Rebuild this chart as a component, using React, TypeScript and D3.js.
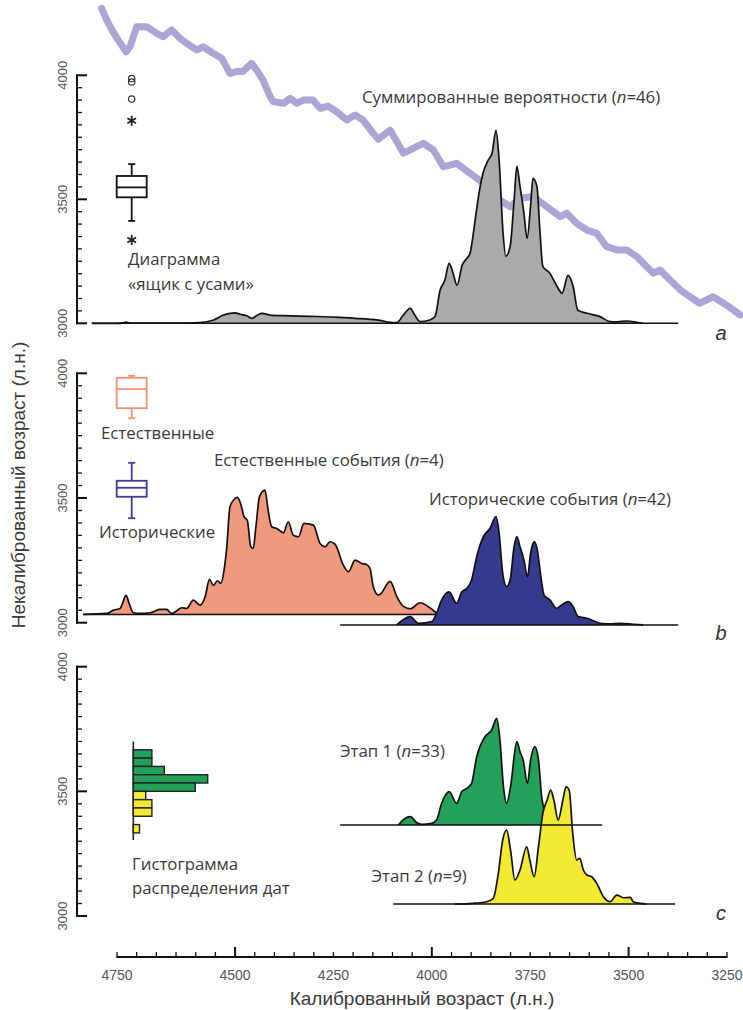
import React from 'react'
import * as d3 from 'd3'

const W = 743
const H = 1010

// calibration curve: [calibrated age, radiocarbon age]
const calCurve: [number, number][] = [
  [4839, 4270], [4826, 4223], [4813, 4183], [4797, 4142], [4777, 4095], [4767, 4115], [4750, 4196],
  [4725, 4196], [4699, 4169], [4683, 4156], [4661, 4183], [4640, 4149], [4623, 4129], [4597, 4102],
  [4581, 4115], [4556, 4089], [4534, 4069], [4513, 4008], [4496, 4015], [4480, 4015], [4458, 4048],
  [4445, 4021], [4429, 3981], [4411, 3914], [4403, 3894], [4377, 3887], [4360, 3907], [4343, 3887],
  [4327, 3900], [4302, 3900], [4284, 3867], [4264, 3876], [4242, 3853], [4216, 3820], [4195, 3840],
  [4175, 3820], [4149, 3766], [4136, 3742], [4106, 3779], [4072, 3686], [4055, 3699], [4022, 3726],
  [3996, 3699], [3971, 3631], [3937, 3645], [3903, 3605], [3869, 3565], [3827, 3498], [3801, 3470],
  [3776, 3504], [3742, 3511], [3708, 3470], [3674, 3430], [3657, 3444], [3632, 3403], [3606, 3376],
  [3581, 3363], [3556, 3309], [3530, 3296], [3505, 3296], [3479, 3269], [3454, 3228], [3437, 3202],
  [3420, 3215], [3395, 3175], [3369, 3135], [3344, 3107], [3319, 3081], [3285, 3107], [3259, 3081],
  [3234, 3054], [3217, 3034],
]

// summed probabilities: [calibrated age, relative probability]
const sumAll: [number, number][] = [
  [4864, 0], [4800, 0], [4785, 0.5], [4777, 1.2], [4768, 0.3], [4650, 0.3], [4589, 0.8], [4556, 3],
  [4531, 8], [4513, 10], [4500, 10.5], [4487, 9], [4470, 7.5], [4457, 5], [4444, 8], [4432, 10],
  [4406, 8], [4360, 7.5], [4310, 7], [4233, 6], [4195, 5], [4157, 4], [4132, 3], [4106, 1], [4089, 0.7],
  [4073, 8], [4055, 15], [4043, 8], [4030, 1.7], [4005, 3.3], [3992, 6.7], [3979, 33], [3967, 43],
  [3956, 60], [3946, 50], [3936, 38], [3923, 58], [3911, 65], [3903, 70], [3890, 103], [3883, 123],
  [3870, 150], [3857, 163], [3847, 170], [3837, 193], [3829, 163], [3819, 90], [3812, 67], [3801, 77],
  [3791, 123], [3784, 157], [3776, 137], [3766, 110], [3758, 85], [3748, 123], [3743, 145], [3733, 137],
  [3725, 90], [3718, 57], [3700, 50], [3682, 37], [3669, 30], [3654, 48], [3641, 37], [3629, 13],
  [3606, 10], [3573, 6.7], [3547, 1.7], [3530, 1.5], [3504, 2.3], [3479, 1], [3463, 0],
]

const natural: [number, number][] = [
  [4886, 0], [4826, 1], [4809, 4.3], [4792, 6], [4786, 11], [4777, 19], [4769, 11], [4759, 1.7],
  [4742, 1], [4716, 1.7], [4691, 5], [4674, 5], [4661, 1], [4648, 3.7], [4636, 6.7], [4623, 6],
  [4606, 14.3], [4589, 9.3], [4576, 17.7], [4565, 35], [4555, 29], [4545, 33.7], [4536, 31], [4528, 44],
  [4521, 67.7], [4513, 107.7], [4504, 114.3], [4494, 117], [4486, 111], [4477, 97.7], [4469, 94.3],
  [4460, 67.7], [4454, 66], [4447, 87.7], [4438, 117.7], [4424, 124.3], [4416, 104.3], [4407, 87.7],
  [4394, 86], [4377, 81.7], [4365, 92.7], [4352, 79.3], [4339, 77.7], [4325, 91], [4301, 89.3],
  [4284, 71], [4271, 67.7], [4259, 72.7], [4246, 70.3], [4225, 49.3], [4212, 42.7], [4195, 54.3],
  [4178, 51], [4166, 50], [4157, 46], [4149, 28], [4136, 19.5], [4132, 20], [4106, 33], [4089, 18],
  [4073, 8.3], [4055, 5.7], [4030, 11.7], [4005, 6.7], [3984, 0],
]

const historical: [number, number][] = [
  [4089, 0], [4055, 8.3], [4034, 1.7], [4000, 3.3], [3988, 11.7], [3975, 25], [3956, 33], [3937, 21.7],
  [3924, 33], [3911, 36.7], [3899, 45], [3886, 68.3], [3869, 88.3], [3852, 96.7], [3837, 108.3],
  [3829, 91.7], [3820, 51.7], [3810, 38.3], [3801, 45], [3791, 78.3], [3784, 88.3], [3776, 78.3],
  [3766, 65], [3757, 48.3], [3749, 71.7], [3740, 83.3], [3732, 75], [3723, 48.3], [3715, 30], [3700, 25],
  [3683, 16.7], [3670, 20], [3653, 23.3], [3641, 18.3], [3628, 8.3], [3606, 6.7], [3573, 1.7],
  [3547, 1], [3522, 1.7], [3488, 0.7], [3463, 0],
]

const stage1: [number, number][] = [
  [4085, 0], [4073, 5], [4055, 8.3], [4038, 2.3], [4026, 0.7], [4000, 1.7], [3988, 5], [3975, 21.7],
  [3956, 33.3], [3937, 21.7], [3924, 33.3], [3911, 36.7], [3899, 41.7], [3886, 68.3], [3865, 88.3],
  [3848, 95], [3835, 106.7], [3827, 85], [3818, 38.3], [3810, 21.7], [3800, 38.3], [3784, 83.3],
  [3776, 73.3], [3768, 65], [3757, 41.7], [3749, 65], [3738, 78.3], [3729, 65], [3721, 28.3],
  [3712, 11.7], [3704, 3.3], [3695, 0.7], [3687, 0],
]

const stage2: [number, number][] = [
  [3941, 0], [3895, 0.7], [3861, 2.3], [3844, 5.7], [3831, 30.7], [3820, 64], [3810, 74], [3800, 54],
  [3789, 24], [3776, 34], [3759, 57.3], [3751, 44], [3740, 27.3], [3729, 57.3], [3718, 90.7],
  [3707, 104], [3698, 114], [3690, 104], [3679, 84], [3667, 104], [3659, 117.3], [3651, 114],
  [3642, 70.7], [3632, 44], [3624, 45.7], [3615, 34], [3606, 29], [3594, 27.3], [3581, 20.7],
  [3564, 7.3], [3547, 2.3], [3530, 9], [3513, 6.3], [3496, 6.7], [3488, 2.3], [3471, 0.7], [3454, 0],
]

// box plots of radiocarbon ages: [whiskerLow, q1, median, q3, whiskerHigh]
const boxAll = [3413, 3508, 3548, 3594, 3642]
const boxAllStars = [3817, 3336]
const boxAllCircles = [3904, 3987, 3973]
const boxNatural = [3820, 3860, 3937, 3982, 3990]
const boxHistorical = [3419, 3505, 3541, 3569, 3641]

// histogram of dates, bins of 33.3 years going down from 3666.7
const histTop = 3666.7
const histBin = 100 / 3
const histStage1 = [3, 3, 5, 12, 10]
const histStage2 = [2, 3, 3, 0, 1]

const xTickLabels = [4750, 4500, 4250, 4000, 3750, 3500, 3250]
const yTickLabels = [4000, 3500, 3000]

const x = d3.scaleLinear().domain([4800, 3250]).range([117, 727])
const yA = d3.scaleLinear().domain([3000, 4000]).range([323.3, 75.3])
const yB = d3.scaleLinear().domain([3000, 4000]).range([622.7, 373.3])
const yC = d3.scaleLinear().domain([3000, 4000]).range([916, 666.7])
const prob = d3.scaleLinear().domain([0, 100]).range([0, 100])
const histX = d3.scaleLinear().domain([0, 12]).range([133.3, 207.7])

const AXIS_FONT = "'Liberation Sans', Arial, sans-serif"
const LABEL_FONT = "'Open Sans', 'DejaVu Sans', sans-serif"
const LABEL_SIZE = 16.8
const TXT = '#3a3a3a'

function Density({ data, y, base, from, to, fill }: any) {
  const b = y(base)
  const area = d3.area<[number, number]>()
    .x(d => x(d[0]))
    .y0(b)
    .y1(d => b - prob(d[1]))
    .curve(d3.curveMonotoneX)
  const line = d3.line<[number, number]>()
    .x(d => x(d[0]))
    .y(d => b - prob(d[1]))
    .curve(d3.curveMonotoneX)
  return (
    <g>
      <path d={area(data) || ''} fill={fill} />
      <path d={line(data) || ''} fill="none" stroke="#111" strokeWidth={1.7} strokeLinejoin="round" />
      {from != null && <line x1={x(from)} x2={x(to)} y1={b} y2={b} stroke="#111" strokeWidth={1.5} />}
    </g>
  )
}

function Box({ v, y, color, width = 1.8 }: any) {
  const cx = 131.7
  const hw = 15
  const cap = 3.5
  return (
    <g stroke={color} strokeWidth={width} fill="none">
      <line x1={cx} x2={cx} y1={y(v[0])} y2={y(v[1])} />
      <line x1={cx} x2={cx} y1={y(v[3])} y2={y(v[4])} />
      <line x1={cx - cap} x2={cx + cap} y1={y(v[0])} y2={y(v[0])} />
      <line x1={cx - cap} x2={cx + cap} y1={y(v[4])} y2={y(v[4])} />
      <rect x={cx - hw} y={y(v[3])} width={hw * 2} height={y(v[1]) - y(v[3])} fill="#fff" />
      <line x1={cx - hw} x2={cx + hw} y1={y(v[2])} y2={y(v[2])} />
    </g>
  )
}

function YAxis({ y }: any) {
  const ticks = d3.range(3000, 4001, 50)
  return (
    <g>
      <line x1={77} x2={77} y1={y(4000) - 1} y2={y(3000) + 1} stroke="#111" strokeWidth={2} />
      {ticks.map(t => (
        <line key={t} x1={76} x2={t % 500 === 0 ? 87 : 82} y1={y(t)} y2={y(t)} stroke="#111"
          strokeWidth={t % 500 === 0 ? 2 : 1.3} />
      ))}
      {yTickLabels.map(t => (
        <text key={t} transform={`translate(66.5,${y(t)}) rotate(-90)`} textAnchor="middle"
          fontFamily={AXIS_FONT} fontSize={13} fill="#555">{t}</text>
      ))}
    </g>
  )
}

export default function App() {
  const curveLine = d3.line<[number, number]>().x(d => x(d[0])).y(d => yA(d[1])).curve(d3.curveLinear)
  const star = d3.symbol().type(d3.symbolAsterisk).size(70)
  const xTicks = d3.range(4800, 3249, -50)
  const histBars = [
    ...histStage1.map((c, i) => ({ c, i, fill: '#24a158' })),
    ...histStage2.map((c, i) => ({ c, i: i + histStage1.length, fill: '#f3ea34' })),
  ].filter(b => b.c > 0)

  return (
    <svg width={W} height={H} style={{ position: 'absolute', left: 0, top: 0, background: '#fff' }}>
      {/* panel a */}
      <path d={curveLine(calCurve) || ''} fill="none" stroke="#aaa7d6" strokeWidth={7}
        strokeLinejoin="round" strokeLinecap="round" />
      <Density data={sumAll} y={yA} base={3000} from={4864} to={3374} fill="#a9aaac" />
      <YAxis y={yA} />
      <Box v={boxAll} y={yA} color="#111" />
      {boxAllStars.map(s => (
        <path key={s} d={star() || ''} transform={`translate(131.7,${yA(s)})`} stroke="#222" strokeWidth={1.8} fill="none" />
      ))}
      {boxAllCircles.map(s => (
        <circle key={s} cx={131.7} cy={yA(s)} r={3.2} fill="none" stroke="#333" strokeWidth={1.2} />
      ))}
      <text x={362} y={103} fontFamily={LABEL_FONT} fontSize={LABEL_SIZE} fill={TXT}>
        Суммированные вероятности (<tspan fontStyle="italic">n</tspan>=46)
      </text>
      <text x={128} y={265} fontFamily={LABEL_FONT} fontSize={LABEL_SIZE} fill={TXT}>Диаграмма</text>
      <text x={128} y={290} fontFamily={LABEL_FONT} fontSize={LABEL_SIZE} fill={TXT}>«ящик с усами»</text>

      {/* panel b */}
      <Density data={natural} y={yB} base={3033} from={4886} to={3984} fill="#f0997d" />
      <Density data={historical} y={yB} base={2991} from={4233} to={3374} fill="#363b8e" />
      <YAxis y={yB} />
      <Box v={boxNatural} y={yB} color="#f0937a" />
      <Box v={boxHistorical} y={yB} color="#3a3d98" />
      <text x={101} y={439} fontFamily={LABEL_FONT} fontSize={LABEL_SIZE} fill={TXT}>Естественные</text>
      <text x={99} y={537.5} fontFamily={LABEL_FONT} fontSize={LABEL_SIZE} fill={TXT}>Исторические</text>
      <text x={214} y={466} fontFamily={LABEL_FONT} fontSize={LABEL_SIZE} fill={TXT}>
        Естественные события (<tspan fontStyle="italic">n</tspan>=4)
      </text>
      <text x={429} y={505} fontFamily={LABEL_FONT} fontSize={LABEL_SIZE} fill={TXT}>
        Исторические события (<tspan fontStyle="italic">n</tspan>=42)
      </text>

      {/* panel c: stage 1 under stage 2, its baseline drawn over both */}
      <Density data={stage1} y={yC} base={3365} fill="#24a158" />
      <Density data={stage2} y={yC} base={3048} from={4098} to={3382} fill="#f3ea34" />
      <line x1={x(4233)} x2={x(3567)} y1={yC(3365)} y2={yC(3365)} stroke="#111" strokeWidth={1.5} />
      <YAxis y={yC} />
      <line x1={histX(0)} x2={histX(0)} y1={yC(3700)} y2={yC(3305)} stroke="#222" strokeWidth={1.6} />
      {histBars.map(b => (
        <rect key={b.i} x={histX(0)} y={yC(histTop - b.i * histBin)} width={histX(b.c) - histX(0)}
          height={yC(histTop - (b.i + 1) * histBin) - yC(histTop - b.i * histBin)}
          fill={b.fill} stroke="#222" strokeWidth={1.4} />
      ))}
      <text x={340} y={756.5} fontFamily={LABEL_FONT} fontSize={LABEL_SIZE} fill={TXT}>
        Этап 1 (<tspan fontStyle="italic">n</tspan>=33)
      </text>
      <text x={371.5} y={881.5} fontFamily={LABEL_FONT} fontSize={LABEL_SIZE} fill={TXT}>
        Этап 2 (<tspan fontStyle="italic">n</tspan>=9)
      </text>
      <text x={132} y={870} fontFamily={LABEL_FONT} fontSize={LABEL_SIZE} fill={TXT}>Гистограмма</text>
      <text x={132} y={894} fontFamily={LABEL_FONT} fontSize={LABEL_SIZE} fill={TXT}>распределения дат</text>

      {/* panel letters */}
      {[['a', 340], ['b', 640], ['c', 920]].map(([l, yy]) => (
        <text key={l as string} x={721} y={yy as number} textAnchor="middle" fontFamily={AXIS_FONT}
          fontStyle="italic" fontSize={20} fill="#333">{l}</text>
      ))}

      {/* x axis */}
      <line x1={x(4800)} x2={x(3250)} y1={957} y2={957} stroke="#111" strokeWidth={2} />
      {xTicks.map(t => (
        <line key={t} x1={x(t)} x2={x(t)} y1={958} y2={t % 500 === 0 && t !== 3250 && t !== 4800 ? 947 : 952}
          stroke="#111" strokeWidth={t % 500 === 0 ? 2 : 1.3} />
      ))}
      {xTickLabels.map(t => (
        // the first label sits under the start of the axis in the original figure
        <text key={t} x={t === 4750 ? x(4800) : x(t)} y={979.5} textAnchor="middle"
          fontFamily={AXIS_FONT} fontSize={14} fill="#555">{t}</text>
      ))}
      <text x={422} y={1005} textAnchor="middle" fontFamily={AXIS_FONT} fontSize={19} fill={TXT}>
        Калиброванный возраст (л.н.)
      </text>
      <text transform="translate(25,485) rotate(-90)" textAnchor="middle" fontFamily={AXIS_FONT}
        fontSize={19} fill={TXT}>
        Некалиброванный возраст (л.н.)
      </text>
    </svg>
  )
}
